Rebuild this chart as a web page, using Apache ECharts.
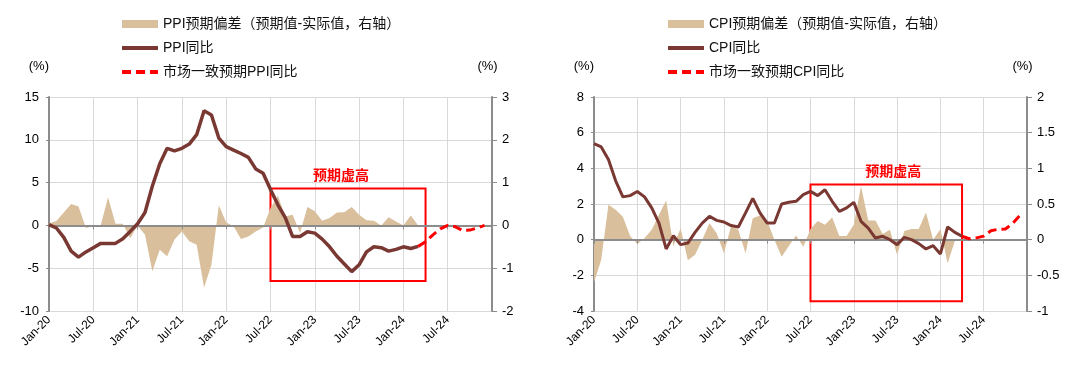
<!DOCTYPE html>
<html>
<head>
<meta charset="utf-8">
<script src="https://cdn.jsdelivr.net/npm/echarts@6/dist/echarts.min.js"></script>
<style>
html,body{margin:0;padding:0;background:#fff;}
#chart{width:1080px;height:371px;}
</style>
</head>
<body>
<div id="chart"></div>
<script>
// ---------- data ----------
const categories = [
 'Jan-20','Feb-20','Mar-20','Apr-20','May-20','Jun-20','Jul-20','Aug-20','Sep-20','Oct-20','Nov-20','Dec-20',
 'Jan-21','Feb-21','Mar-21','Apr-21','May-21','Jun-21','Jul-21','Aug-21','Sep-21','Oct-21','Nov-21','Dec-21',
 'Jan-22','Feb-22','Mar-22','Apr-22','May-22','Jun-22','Jul-22','Aug-22','Sep-22','Oct-22','Nov-22','Dec-22',
 'Jan-23','Feb-23','Mar-23','Apr-23','May-23','Jun-23','Jul-23','Aug-23','Sep-23','Oct-23','Nov-23','Dec-23',
 'Jan-24','Feb-24','Mar-24','Apr-24','May-24','Jun-24','Jul-24','Aug-24','Sep-24','Oct-24','Nov-24','Dec-24',
 'Jan-25'
];
const labelEvery = 6;
const lastLabelIndex = 54;

// PPI chart
const ppiYoY = [0.1,-0.3,-1.4,-3.0,-3.7,-3.1,-2.6,-2.1,-2.1,-2.1,
 -1.55,-0.7,0.2,1.5,4.6,7.2,9.0,8.7,9.0,9.5,
 10.6,13.4,12.9,10.2,9.2,8.8,8.4,7.95,6.6,6.1,
 4.2,2.4,0.9,-1.3,-1.3,-0.75,-0.9,-1.6,-2.5,-3.6,
 -4.5,-5.4,-4.6,-3.1,-2.5,-2.6,-3.0,-2.8,-2.5,-2.7,
 -2.45];
const ppiExpStart = 50;
const ppiExp = [-2.45,-1.9,-1.1,-0.4,0.0,-0.15,-0.6,-0.55,-0.3,0.0];
const ppiDev = [0.05,0.1,0.3,0.5,0.44,-0.06,-0.02,0.0,0.66,0.04,
 0.04,-0.3,0.0,-0.22,-1.07,-0.57,-0.72,-0.33,-0.14,-0.37,
 -0.45,-1.45,-0.92,0.47,0.07,-0.02,-0.32,-0.26,-0.14,-0.05,
 0.4,0.69,0.21,0.25,-0.18,0.43,0.33,0.11,0.17,0.3,
 0.31,0.43,0.25,0.12,0.11,0.0,0.19,0.09,0.0,0.23,
 0.0];
const ppiLeftTicks = {min:-10, max:15, interval:5};
const ppiRightTicks = {min:-2, max:3, interval:1};
const ppiBox = {from:'Jul-22', to:'Apr-24', top:4.3, bottom:-6.5, text:'预期虚高'};

// CPI chart
const cpiYoY = [5.38,5.2,4.5,3.3,2.4,2.47,2.7,2.4,1.78,0.93,
 -0.52,0.22,-0.28,-0.19,0.41,0.93,1.31,1.08,0.99,0.79,
 0.71,1.5,2.32,1.5,0.93,0.93,2.0,2.1,2.15,2.52,
 2.71,2.47,2.8,2.15,1.59,1.78,2.09,1.03,0.65,0.09,
 0.19,0.0,-0.28,0.13,0.0,-0.22,-0.52,-0.34,-0.8,0.71,
 0.41,0.19];
const cpiExpStart = 51;
const cpiExp = [0.19,0.05,0.1,0.2,0.5,0.58,0.6,0.9,1.35];
const cpiDev = [-0.6,-0.28,0.49,0.42,0.32,0.05,-0.06,0.02,0.14,0.35,
 0.55,-0.09,0.16,-0.29,-0.21,0.0,0.23,0.09,-0.19,0.19,
 0.14,-0.19,0.3,0.34,0.26,0.0,-0.24,-0.09,0.06,-0.1,
 0.15,0.26,0.21,0.31,0.05,0.05,0.21,0.75,0.27,0.27,
 0.08,0.14,-0.21,0.12,0.15,0.15,0.38,0.0,0.15,-0.33,
 -0.02];
const cpiLeftTicks = {min:-4, max:8, interval:2};
const cpiRightTicks = {min:-1, max:2, interval:0.5};
const cpiBox = {from:'Jul-22', to:'Apr-24', top:3.1, bottom:-3.45, text:'预期虚高'};

const names = {
  ppiDev:'PPI预期偏差（预期值-实际值，右轴）', ppiYoY:'PPI同比', ppiExp:'市场一致预期PPI同比',
  cpiDev:'CPI预期偏差（预期值-实际值，右轴）', cpiYoY:'CPI同比', cpiExp:'市场一致预期CPI同比'
};

// ---------- styles ----------
const FONT = "'Liberation Sans', Arial, 'Noto Sans CJK SC', sans-serif";
const TAN = '#D9BF9B';
const BROWN = '#7A3833';
const RED = '#FF0000';
const GRID_LINE = '#D9D9D9';
const AXIS_LINE = '#8C8C8C';

function pad(start, arr){ const out = new Array(start).fill(null); return out.concat(arr); }

function xAxes(gridIndex){
  return [
    {
      type:'category', gridIndex, data:categories, boundaryGap:false,
      axisLine:{show:false}, axisTick:{show:false},
      axisLabel:{interval:(i)=> i % labelEvery === 0 && i <= lastLabelIndex, rotate:45, fontSize:12, color:'#000', margin:7, fontFamily:FONT},
      splitLine:{show:true, interval:labelEvery-1, lineStyle:{color:GRID_LINE, width:1}}
    },
    {
      type:'category', gridIndex, data:categories, boundaryGap:false, position:'bottom', z:3,
      axisLine:{show:true, onZero:true, onZeroAxisIndex:gridIndex*2, lineStyle:{color:AXIS_LINE, width:2}},
      axisTick:{show:true, interval:labelEvery-1, length:4, lineStyle:{color:AXIS_LINE, width:1}},
      axisLabel:{show:false}, splitLine:{show:false}
    }
  ];
}

function yAxes(gridIndex, left, right, nameOffsetRight){
  const common = {
    type:'value', gridIndex, alignTicks:false,
    axisLabel:{fontSize:13, color:'#000', margin:10, fontFamily:FONT},
    name:'(%)', nameLocation:'end', nameGap:24,
    axisLine:{show:true, onZero:false, lineStyle:{color:AXIS_LINE, width:2}},
  };
  return [
    Object.assign({}, common, {
      position:'left', min:left.min, max:left.max, interval:left.interval,
      axisTick:{show:true, length:3, lineStyle:{color:AXIS_LINE}},
      splitLine:{show:true, lineStyle:{color:GRID_LINE, width:1}},
      nameTextStyle:{fontSize:13, color:'#000', align:'right', fontFamily:FONT}
    }),
    Object.assign({}, common, {
      position:'right', min:right.min, max:right.max, interval:right.interval,
      axisTick:{show:true, length:5, lineStyle:{color:AXIS_LINE}},
      splitLine:{show:false},
      nameTextStyle:{fontSize:13, color:'#000', align:'center', padding:[0,nameOffsetRight,0,0], fontFamily:FONT}
    })
  ];
}

function seriesFor(idx, dev, yoy, expStart, exp, box, n){
  const xa = idx*2, ya = idx*2;
  return [
    {
      name:n.dev, type:'line', xAxisIndex:xa, yAxisIndex:ya+1, data:dev,
      symbol:'none', lineStyle:{width:0}, itemStyle:{color:TAN},
      areaStyle:{color:TAN, opacity:1}, z:1, animation:false
    },
    {
      name:n.yoy, type:'line', xAxisIndex:xa, yAxisIndex:ya, data:yoy,
      symbol:'none', lineStyle:{color:BROWN, width:idx===0?3.5:3}, itemStyle:{color:BROWN}, z:5, animation:false,
      markArea:{
        silent:true,
        itemStyle:{color:'rgba(0,0,0,0)', borderColor:RED, borderWidth:2},
        label:{show:true, position:'top', color:RED, fontSize:14, fontWeight:'bold', distance:6,
               offset:[idx===0?-7:7, 0], fontFamily:"'Noto Sans CJK SC', sans-serif"},
        data:[[{name:box.text, xAxis:box.from, yAxis:box.top},{xAxis:box.to, yAxis:box.bottom}]]
      }
    },
    {
      name:n.exp, type:'line', xAxisIndex:xa, yAxisIndex:ya, data:pad(expStart, exp),
      symbol:'none', lineStyle:{color:RED, width:3, type:[9,5]}, itemStyle:{color:RED}, z:5, animation:false
    }
  ];
}

function legendFor(left, n){
  return {
    orient:'vertical', left, top:12, itemWidth:36, itemHeight:8, itemGap:10,
    textStyle:{fontSize:14, color:'#111', fontFamily:FONT},
    data:[
      {name:n.dev, icon:'rect'},
      {name:n.yoy, itemStyle:{opacity:0}, lineStyle:{width:4, color:BROWN}},
      {name:n.exp, itemStyle:{opacity:0}, lineStyle:{width:4, color:RED, type:[9,5]}}
    ]
  };
}

const chart = echarts.init(document.getElementById('chart'), null, {renderer:'canvas'});
const option = {
  animation:false,
  backgroundColor:'#fff',
  textStyle:{fontFamily:FONT},
  grid:[
    {left:49, right:588, top:97, bottom:60},
    {left:594, right:53, top:97, bottom:60}
  ],
  legend:[
    legendFor(115, {dev:names.ppiDev, yoy:names.ppiYoY, exp:names.ppiExp}),
    legendFor(661, {dev:names.cpiDev, yoy:names.cpiYoY, exp:names.cpiExp})
  ],
  xAxis:[...xAxes(0), ...xAxes(1)],
  yAxis:[...yAxes(0, ppiLeftTicks, ppiRightTicks, 9), ...yAxes(1, cpiLeftTicks, cpiRightTicks, 9)],
  series:[
    ...seriesFor(0, ppiDev, ppiYoY, ppiExpStart, ppiExp, ppiBox, {dev:names.ppiDev, yoy:names.ppiYoY, exp:names.ppiExp}),
    ...seriesFor(1, cpiDev, cpiYoY, cpiExpStart, cpiExp, cpiBox, {dev:names.cpiDev, yoy:names.cpiYoY, exp:names.cpiExp})
  ]
};
chart.setOption(option);
</script>
</body>
</html>
